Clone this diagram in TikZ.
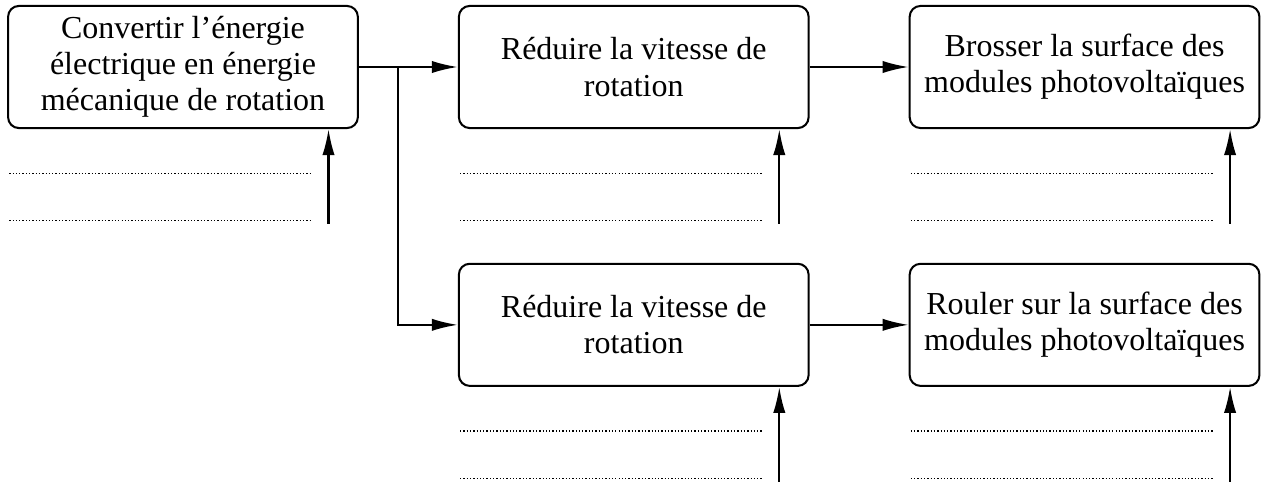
\documentclass[tikz,border=0pt]{standalone}
\usepackage{fontspec}
\setmainfont{Liberation Serif}
\usetikzlibrary{positioning, calc}
\usetikzlibrary{arrows.meta}

\tikzset{
  bloc/.style={draw, thick, rounded corners=1.5mm, minimum width=4.84cm, minimum height=1.69cm,
    align=center, font=\fontsize{12.6}{14.2}\selectfont},
  fleche/.style={thick, -{Latex[length=3.6mm,width=1.7mm]}},
  pointilles/.style={line width=0.5pt, dash pattern=on 0.5pt off 0.8pt},
}

\begin{document}
\begin{tikzpicture}[node distance=1.85cm and 1.37cm]
            \useasboundingbox (0,0) rectangle (17.45,-6.685);
            \node[bloc] (convertir) at (2.532,-0.927) {Convertir l’énergie\\électrique en énergie\\mécanique de rotation};
            \node[bloc, right=of convertir] (reduire1) {Réduire la vitesse de\\rotation};
            \node[bloc, right=of reduire1] (brosser) {Brosser la surface des\\modules photovoltaïques};
            \node[bloc, below=of reduire1] (reduire2) {Réduire la vitesse de\\rotation};
            \node[bloc, right=of reduire2] (rouler) {Rouler sur la surface des\\modules photovoltaïques};
            \coordinate[right=0.54cm of convertir.east] (branche);
            \draw[fleche] (convertir) -- (reduire1);
            \draw[fleche] (branche) |- (reduire2);
            \draw[fleche] (reduire1) -- (brosser);
            \draw[fleche] (reduire2) -- (rouler);
            \foreach \b in {convertir, reduire1, brosser, reduire2, rouler}{
                \coordinate (\b-in) at ($(\b.south east)+(-0.42,-1.31)$);
                \draw[fleche] (\b-in) -- (\b-in |- \b.south);
                \draw[pointilles] ($(\b.south west)+(0.03,-0.61)$) -- ($(\b.south east)+(-0.64,-0.61)$);
                \draw[pointilles] ($(\b.south west)+(0.03,-1.27)$) -- ($(\b.south east)+(-0.64,-1.27)$);
            }
        \end{tikzpicture}
\end{document}
